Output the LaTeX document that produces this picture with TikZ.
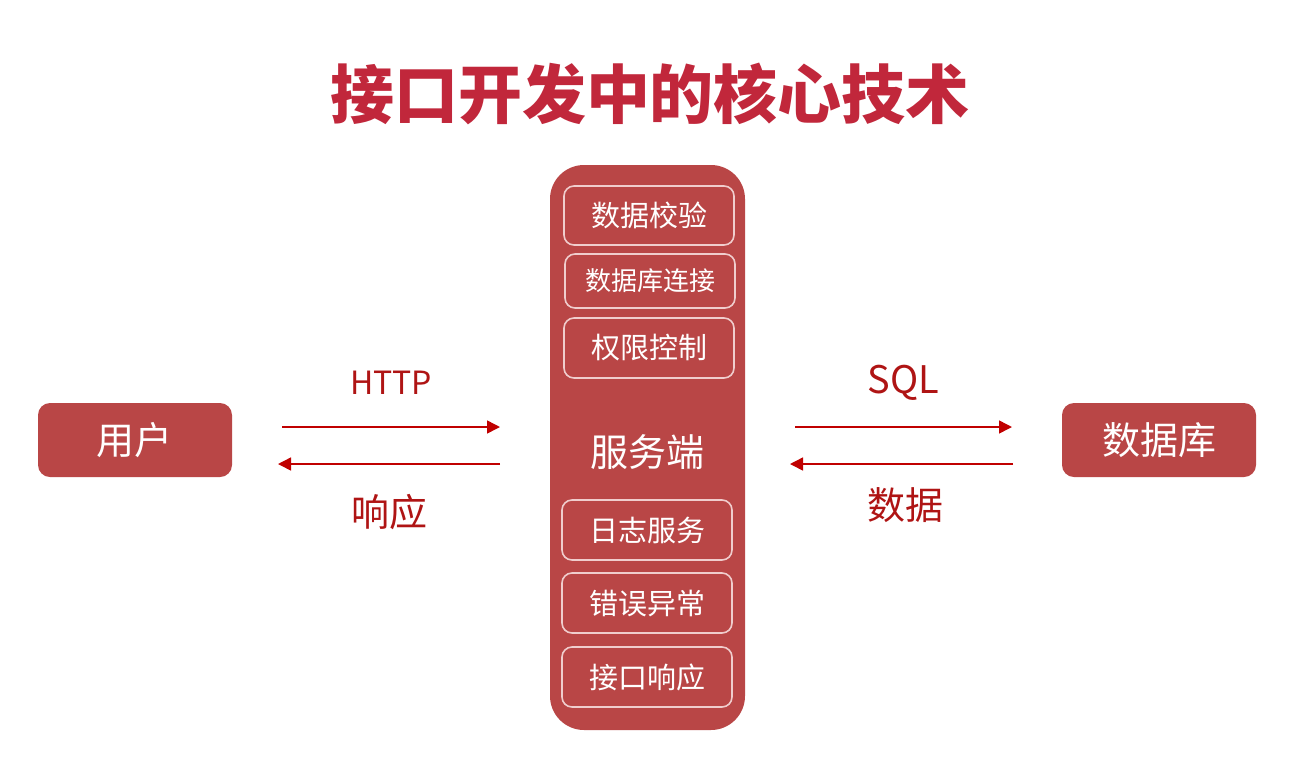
\documentclass[tikz,border=0pt]{standalone}
\usepackage{fontspec}
\setmainfont{Noto Sans CJK SC}
\usetikzlibrary{positioning,arrows.meta}
\definecolor{boxred}{RGB}{185,70,70}
\definecolor{titlered}{RGB}{193,39,59}
\definecolor{arrowred}{RGB}{192,0,0}
\definecolor{labelred}{RGB}{175,20,20}
\definecolor{rimpink}{RGB}{240,205,205}

\begin{document}
\begin{tikzpicture}
	[x=0.5pt,y=-0.5pt,
	end node/.style={shape=rectangle,rounded corners=6pt,fill=boxred,text=white,minimum width=97pt,minimum height=37pt,font=\fontsize{19}{19}\selectfont},
	task node/.style={shape=rectangle,rounded corners=5pt,draw=rimpink,line width=0.8pt,text=white,minimum width=85pt,minimum height=30pt,font=\fontsize{14.5}{14.5}\selectfont},
	link/.style={draw=arrowred,line width=0.75pt,-{Triangle[length=6.5pt,width=6.5pt]}},
	tag/.style={text=labelred,font=\fontsize{19}{19}\selectfont}]
	\useasboundingbox (0,0) rectangle (1314,757);
	
	\node [text=titlered,font=\fontsize{32}{32}\selectfont\bfseries] (title) at (650,94) {接口开发中的核心技术};
	
	\node [end node] (user) at (135,440) {用户};
	\node [end node] (db) at (1159,440) {数据库};
	
	\node [shape=rectangle,rounded corners=17pt,fill=boxred,minimum width=97.5pt,minimum height=282.5pt] (server) at (647.5,447.5) {};
	\node [text=white,font=\fontsize{19}{19}\selectfont] (serverlbl) at (647,452) {服务端};
	
	\node [task node,minimum height=29.5pt] (check) at (649,215.5) {数据校验};
	\node [task node,minimum height=27pt,font=\fontsize{13}{13}\selectfont] (conn) at (650,281) {数据库连接};
	\node [task node] (auth) at (649,348) {权限控制};
	\node [task node] (log) at (647,530) {日志服务};
	\node [task node] (err) at (647,603) {错误异常};
	\node [task node] (resp) at (647,677) {接口响应};
	
	\coordinate (h1) at (282,427);
	\coordinate (h2) at (500,427);
	\coordinate (r1) at (500,464);
	\coordinate (r2) at (278,464);
	\coordinate (s1) at (795,427);
	\coordinate (s2) at (1012,427);
	\coordinate (d1) at (1013,464);
	\coordinate (d2) at (790,464);

	\path[]
	(h1) edge[link] node[tag,yshift=22pt,font=\fontsize{16}{16}\selectfont] {HTTP} (h2)
	(r1) edge[link] node[tag,yshift=-24pt] {响应} (r2)
	(s1) edge[link] node[tag,yshift=22pt] {SQL} (s2)
	(d1) edge[link] node[tag,yshift=-20.5pt,xshift=2pt] {数据} (d2)
	;
	
\end{tikzpicture}
\end{document}
